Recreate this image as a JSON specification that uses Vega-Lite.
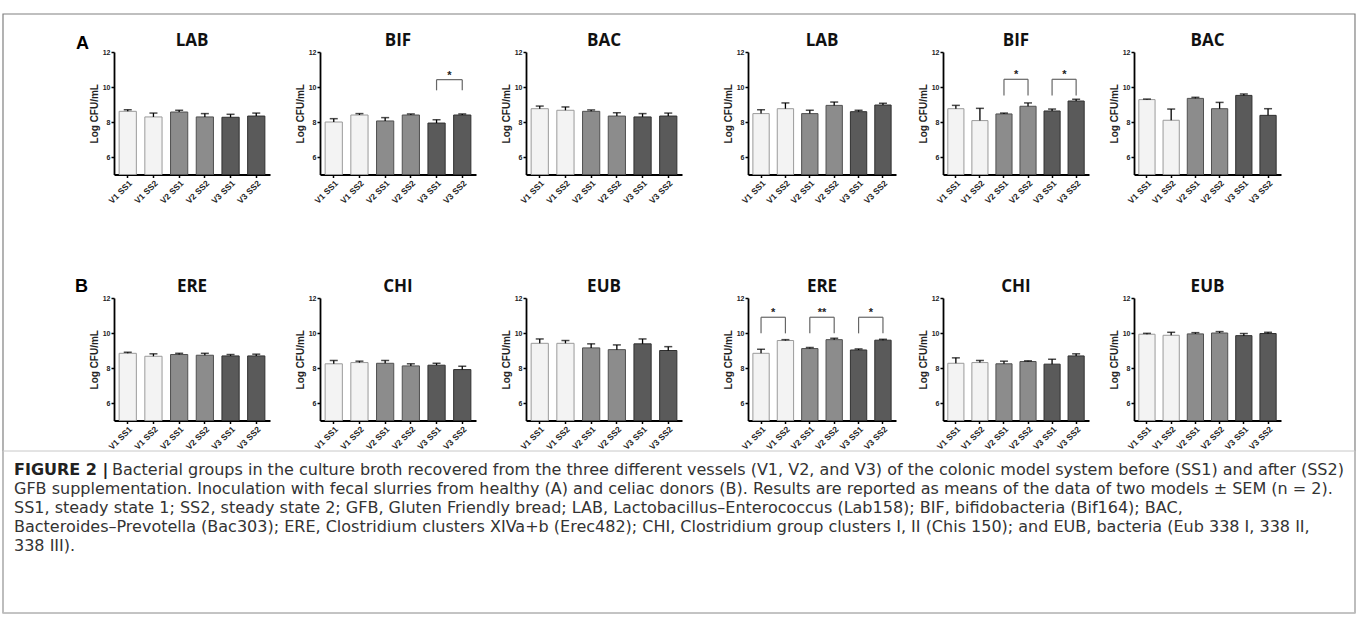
{
"$schema":"https://vega.github.io/schema/vega-lite/v6.json",
"padding":{"left":2,"top":13,"right":2,"bottom":8},
"background":"white",
"datasets":{
"bars":[
{"panel":"A1-LAB","sample":"V1 SS1","vessel":"V1","mean":8.61,"upper":8.70},
{"panel":"A1-LAB","sample":"V1 SS2","vessel":"V1","mean":8.29,"upper":8.51},
{"panel":"A1-LAB","sample":"V2 SS1","vessel":"V2","mean":8.57,"upper":8.67},
{"panel":"A1-LAB","sample":"V2 SS2","vessel":"V2","mean":8.29,"upper":8.48},
{"panel":"A1-LAB","sample":"V3 SS1","vessel":"V3","mean":8.27,"upper":8.44},
{"panel":"A1-LAB","sample":"V3 SS2","vessel":"V3","mean":8.34,"upper":8.51},
{"panel":"A1-BIF","sample":"V1 SS1","vessel":"V1","mean":8.00,"upper":8.19},
{"panel":"A1-BIF","sample":"V1 SS2","vessel":"V1","mean":8.40,"upper":8.48},
{"panel":"A1-BIF","sample":"V2 SS1","vessel":"V2","mean":8.06,"upper":8.25},
{"panel":"A1-BIF","sample":"V2 SS2","vessel":"V2","mean":8.40,"upper":8.46},
{"panel":"A1-BIF","sample":"V3 SS1","vessel":"V3","mean":7.94,"upper":8.13},
{"panel":"A1-BIF","sample":"V3 SS2","vessel":"V3","mean":8.40,"upper":8.46},
{"panel":"A1-BAC","sample":"V1 SS1","vessel":"V1","mean":8.76,"upper":8.91},
{"panel":"A1-BAC","sample":"V1 SS2","vessel":"V1","mean":8.67,"upper":8.86},
{"panel":"A1-BAC","sample":"V2 SS1","vessel":"V2","mean":8.61,"upper":8.69},
{"panel":"A1-BAC","sample":"V2 SS2","vessel":"V2","mean":8.34,"upper":8.53},
{"panel":"A1-BAC","sample":"V3 SS1","vessel":"V3","mean":8.29,"upper":8.48},
{"panel":"A1-BAC","sample":"V3 SS2","vessel":"V3","mean":8.34,"upper":8.51},
{"panel":"A2-LAB","sample":"V1 SS1","vessel":"V1","mean":8.48,"upper":8.70},
{"panel":"A2-LAB","sample":"V1 SS2","vessel":"V1","mean":8.76,"upper":9.09},
{"panel":"A2-LAB","sample":"V2 SS1","vessel":"V2","mean":8.48,"upper":8.67},
{"panel":"A2-LAB","sample":"V2 SS2","vessel":"V2","mean":8.95,"upper":9.14},
{"panel":"A2-LAB","sample":"V3 SS1","vessel":"V3","mean":8.59,"upper":8.67},
{"panel":"A2-LAB","sample":"V3 SS2","vessel":"V3","mean":8.97,"upper":9.07},
{"panel":"A2-BIF","sample":"V1 SS1","vessel":"V1","mean":8.76,"upper":8.95},
{"panel":"A2-BIF","sample":"V1 SS2","vessel":"V1","mean":8.08,"upper":8.78},
{"panel":"A2-BIF","sample":"V2 SS1","vessel":"V2","mean":8.46,"upper":8.51},
{"panel":"A2-BIF","sample":"V2 SS2","vessel":"V2","mean":8.90,"upper":9.09},
{"panel":"A2-BIF","sample":"V3 SS1","vessel":"V3","mean":8.63,"upper":8.74},
{"panel":"A2-BIF","sample":"V3 SS2","vessel":"V3","mean":9.20,"upper":9.30},
{"panel":"A2-BAC","sample":"V1 SS1","vessel":"V1","mean":9.28,"upper":9.31},
{"panel":"A2-BAC","sample":"V1 SS2","vessel":"V1","mean":8.10,"upper":8.74},
{"panel":"A2-BAC","sample":"V2 SS1","vessel":"V2","mean":9.35,"upper":9.41},
{"panel":"A2-BAC","sample":"V2 SS2","vessel":"V2","mean":8.76,"upper":9.12},
{"panel":"A2-BAC","sample":"V3 SS1","vessel":"V3","mean":9.52,"upper":9.60},
{"panel":"A2-BAC","sample":"V3 SS2","vessel":"V3","mean":8.38,"upper":8.76},
{"panel":"B1-ERE","sample":"V1 SS1","vessel":"V1","mean":8.84,"upper":8.90},
{"panel":"B1-ERE","sample":"V1 SS2","vessel":"V1","mean":8.67,"upper":8.81},
{"panel":"B1-ERE","sample":"V2 SS1","vessel":"V2","mean":8.77,"upper":8.84},
{"panel":"B1-ERE","sample":"V2 SS2","vessel":"V2","mean":8.73,"upper":8.84},
{"panel":"B1-ERE","sample":"V3 SS1","vessel":"V3","mean":8.69,"upper":8.77},
{"panel":"B1-ERE","sample":"V3 SS2","vessel":"V3","mean":8.69,"upper":8.79},
{"panel":"B1-CHI","sample":"V1 SS1","vessel":"V1","mean":8.24,"upper":8.43},
{"panel":"B1-CHI","sample":"V1 SS2","vessel":"V1","mean":8.31,"upper":8.39},
{"panel":"B1-CHI","sample":"V2 SS1","vessel":"V2","mean":8.27,"upper":8.43},
{"panel":"B1-CHI","sample":"V2 SS2","vessel":"V2","mean":8.12,"upper":8.24},
{"panel":"B1-CHI","sample":"V3 SS1","vessel":"V3","mean":8.16,"upper":8.27},
{"panel":"B1-CHI","sample":"V3 SS2","vessel":"V3","mean":7.91,"upper":8.10},
{"panel":"B1-EUB","sample":"V1 SS1","vessel":"V1","mean":9.41,"upper":9.66},
{"panel":"B1-EUB","sample":"V1 SS2","vessel":"V1","mean":9.41,"upper":9.57},
{"panel":"B1-EUB","sample":"V2 SS1","vessel":"V2","mean":9.15,"upper":9.38},
{"panel":"B1-EUB","sample":"V2 SS2","vessel":"V2","mean":9.05,"upper":9.32},
{"panel":"B1-EUB","sample":"V3 SS1","vessel":"V3","mean":9.38,"upper":9.66},
{"panel":"B1-EUB","sample":"V3 SS2","vessel":"V3","mean":9.00,"upper":9.22},
{"panel":"B2-ERE","sample":"V1 SS1","vessel":"V1","mean":8.84,"upper":9.07},
{"panel":"B2-ERE","sample":"V1 SS2","vessel":"V1","mean":9.57,"upper":9.62},
{"panel":"B2-ERE","sample":"V2 SS1","vessel":"V2","mean":9.11,"upper":9.17},
{"panel":"B2-ERE","sample":"V2 SS2","vessel":"V2","mean":9.62,"upper":9.70},
{"panel":"B2-ERE","sample":"V3 SS1","vessel":"V3","mean":9.03,"upper":9.09},
{"panel":"B2-ERE","sample":"V3 SS2","vessel":"V3","mean":9.59,"upper":9.64},
{"panel":"B2-CHI","sample":"V1 SS1","vessel":"V1","mean":8.27,"upper":8.58},
{"panel":"B2-CHI","sample":"V1 SS2","vessel":"V1","mean":8.31,"upper":8.43},
{"panel":"B2-CHI","sample":"V2 SS1","vessel":"V2","mean":8.24,"upper":8.39},
{"panel":"B2-CHI","sample":"V2 SS2","vessel":"V2","mean":8.37,"upper":8.41},
{"panel":"B2-CHI","sample":"V3 SS1","vessel":"V3","mean":8.22,"upper":8.50},
{"panel":"B2-CHI","sample":"V3 SS2","vessel":"V3","mean":8.69,"upper":8.81},
{"panel":"B2-EUB","sample":"V1 SS1","vessel":"V1","mean":9.93,"upper":9.98},
{"panel":"B2-EUB","sample":"V1 SS2","vessel":"V1","mean":9.87,"upper":10.04},
{"panel":"B2-EUB","sample":"V2 SS1","vessel":"V2","mean":9.95,"upper":10.02},
{"panel":"B2-EUB","sample":"V2 SS2","vessel":"V2","mean":10.00,"upper":10.08},
{"panel":"B2-EUB","sample":"V3 SS1","vessel":"V3","mean":9.85,"upper":9.97},
{"panel":"B2-EUB","sample":"V3 SS2","vessel":"V3","mean":9.97,"upper":10.04}
],
"brackets":[
{"panel":"A1-BIF","from":"V3 SS1","to":"V3 SS2","top":10.42,"leg":9.81,"label":"*"},
{"panel":"A2-BIF","from":"V2 SS1","to":"V2 SS2","top":10.44,"leg":9.52,"label":"*"},
{"panel":"A2-BIF","from":"V3 SS1","to":"V3 SS2","top":10.44,"leg":9.52,"label":"*"},
{"panel":"B2-ERE","from":"V1 SS1","to":"V1 SS2","top":10.9,"leg":9.98,"label":"*"},
{"panel":"B2-ERE","from":"V2 SS1","to":"V2 SS2","top":10.9,"leg":9.98,"label":"**"},
{"panel":"B2-ERE","from":"V3 SS1","to":"V3 SS2","top":10.9,"leg":9.98,"label":"*"}
],
"caption":[
{"line":1,"part":"label","text":"FIGURE 2 |"},
{"line":1,"part":"body","text":"Bacterial groups in the culture broth recovered from the three different vessels (V1, V2, and V3) of the colonic model system before (SS1) and after (SS2)"},
{"line":2,"part":"body","text":"GFB supplementation. Inoculation with fecal slurries from healthy (A) and celiac donors (B). Results are reported as means of the data of two models ± SEM (n = 2)."},
{"line":3,"part":"body","text":"SS1, steady state 1; SS2, steady state 2; GFB, Gluten Friendly bread; LAB, Lactobacillus–Enterococcus (Lab158); BIF, bifidobacteria (Bif164); BAC,"},
{"line":4,"part":"body","text":"Bacteroides–Prevotella (Bac303); ERE, Clostridium clusters XIVa+b (Erec482); CHI, Clostridium group clusters I, II (Chis 150); and EUB, bacteria (Eub 338 I, 338 II,"},
{"line":5,"part":"body","text":"338 III)."}
]
},
"columns":12,
"spacing":{"row":30,"column":20},
"align":{"row":"each","column":"each"},
"bounds":"flush",
"concat":[
{"width":91,"height":215.5,"title":{"text":"A","anchor":"end","font":"Liberation Sans","fontSize":18,"fontWeight":"bold","offset":-1,"dx":-5,"color":"#000"},"data":{"values":[{}]},"mark":{"type":"text","text":""}},
{"width":156,"height":122.5,"title":{"text":"LAB"},"data":{"name":"bars"},"transform":[{"filter":"datum.panel === 'A1-LAB'"}],
 "encoding":{"x":{"field":"sample","type":"nominal","scale":{"domain":["V1 SS1","V1 SS2","V2 SS1","V2 SS2","V3 SS1","V3 SS2"]},"axis":{"title":null,"labelAngle":-45}},"y":{"field":"mean","type":"quantitative","title":"Log CFU/mL","scale":{"domain":[5,12]},"axis":{"values":[6,8,10,12]}}},
 "layer":[
  {"mark":{"type":"bar","strokeWidth":1},"encoding":{"y2":{"datum":5},"fill":{"field":"vessel","type":"nominal","scale":{"domain":["V1","V2","V3"],"range":["#f3f3f3","#8c8c8c","#5a5a5a"]},"legend":null},"stroke":{"field":"vessel","type":"nominal","scale":{"domain":["V1","V2","V3"],"range":["#9a9a9a","#505050","#303030"]},"legend":null}}},
  {"mark":{"type":"rule","color":"#000","strokeWidth":1.3},"encoding":{"y2":{"field":"upper"}}},
  {"mark":{"type":"tick","color":"#000","thickness":1.5,"size":8},"encoding":{"y":{"field":"upper","type":"quantitative","title":"Log CFU/mL","scale":{"domain":[5,12]},"axis":{"values":[6,8,10,12]}}}}
 ]},
{"width":10,"height":1,"data":{"values":[{}]},"mark":{"type":"text","text":""}},
{"width":156,"height":122.5,"title":{"text":"BIF"},"data":{"name":"bars"},"transform":[{"filter":"datum.panel === 'A1-BIF'"}],
 "encoding":{"x":{"field":"sample","type":"nominal","scale":{"domain":["V1 SS1","V1 SS2","V2 SS1","V2 SS2","V3 SS1","V3 SS2"]},"axis":{"title":null,"labelAngle":-45}},"y":{"field":"mean","type":"quantitative","title":"Log CFU/mL","scale":{"domain":[5,12]},"axis":{"values":[6,8,10,12]}}},
 "layer":[
  {"mark":{"type":"bar","strokeWidth":1},"encoding":{"y2":{"datum":5},"fill":{"field":"vessel","type":"nominal","scale":{"domain":["V1","V2","V3"],"range":["#f3f3f3","#8c8c8c","#5a5a5a"]},"legend":null},"stroke":{"field":"vessel","type":"nominal","scale":{"domain":["V1","V2","V3"],"range":["#9a9a9a","#505050","#303030"]},"legend":null}}},
  {"mark":{"type":"rule","color":"#000","strokeWidth":1.3},"encoding":{"y2":{"field":"upper"}}},
  {"mark":{"type":"tick","color":"#000","thickness":1.5,"size":8},"encoding":{"y":{"field":"upper","type":"quantitative","title":"Log CFU/mL","scale":{"domain":[5,12]},"axis":{"values":[6,8,10,12]}}}},
  {"data":{"name":"brackets"},"transform":[{"filter":"datum.panel === 'A1-BIF'"}],"mark":{"type":"rule","color":"#666","strokeWidth":1.2},"encoding":{"x":{"field":"from","type":"nominal","scale":{"domain":["V1 SS1","V1 SS2","V2 SS1","V2 SS2","V3 SS1","V3 SS2"]},"axis":{"title":null,"labelAngle":-45}},"x2":{"field":"to"},"y":{"field":"top","type":"quantitative","title":"Log CFU/mL","scale":{"domain":[5,12]},"axis":{"values":[6,8,10,12]}}}},
  {"data":{"name":"brackets"},"transform":[{"filter":"datum.panel === 'A1-BIF'"}],"mark":{"type":"rule","color":"#666","strokeWidth":1.2},"encoding":{"x":{"field":"from","type":"nominal","scale":{"domain":["V1 SS1","V1 SS2","V2 SS1","V2 SS2","V3 SS1","V3 SS2"]},"axis":{"title":null,"labelAngle":-45}},"y":{"field":"leg","type":"quantitative","title":"Log CFU/mL","scale":{"domain":[5,12]},"axis":{"values":[6,8,10,12]}},"y2":{"field":"top"}}},
  {"data":{"name":"brackets"},"transform":[{"filter":"datum.panel === 'A1-BIF'"}],"mark":{"type":"rule","color":"#666","strokeWidth":1.2},"encoding":{"x":{"field":"to","type":"nominal","scale":{"domain":["V1 SS1","V1 SS2","V2 SS1","V2 SS2","V3 SS1","V3 SS2"]},"axis":{"title":null,"labelAngle":-45}},"y":{"field":"leg","type":"quantitative","title":"Log CFU/mL","scale":{"domain":[5,12]},"axis":{"values":[6,8,10,12]}},"y2":{"field":"top"}}},
  {"data":{"name":"brackets"},"transform":[{"filter":"datum.panel === 'A1-BIF'"}],"mark":{"type":"text","font":"Liberation Sans","fontSize":11,"fontWeight":"bold","dx":12.8,"dy":-1,"baseline":"alphabetic","color":"#222"},"encoding":{"x":{"field":"from","type":"nominal","scale":{"domain":["V1 SS1","V1 SS2","V2 SS1","V2 SS2","V3 SS1","V3 SS2"]},"axis":{"title":null,"labelAngle":-45}},"y":{"field":"top","type":"quantitative","title":"Log CFU/mL","scale":{"domain":[5,12]},"axis":{"values":[6,8,10,12]}},"text":{"field":"label"}}}
 ]},
{"width":10,"height":1,"data":{"values":[{}]},"mark":{"type":"text","text":""}},
{"width":156,"height":122.5,"title":{"text":"BAC"},"data":{"name":"bars"},"transform":[{"filter":"datum.panel === 'A1-BAC'"}],
 "encoding":{"x":{"field":"sample","type":"nominal","scale":{"domain":["V1 SS1","V1 SS2","V2 SS1","V2 SS2","V3 SS1","V3 SS2"]},"axis":{"title":null,"labelAngle":-45}},"y":{"field":"mean","type":"quantitative","title":"Log CFU/mL","scale":{"domain":[5,12]},"axis":{"values":[6,8,10,12]}}},
 "layer":[
  {"mark":{"type":"bar","strokeWidth":1},"encoding":{"y2":{"datum":5},"fill":{"field":"vessel","type":"nominal","scale":{"domain":["V1","V2","V3"],"range":["#f3f3f3","#8c8c8c","#5a5a5a"]},"legend":null},"stroke":{"field":"vessel","type":"nominal","scale":{"domain":["V1","V2","V3"],"range":["#9a9a9a","#505050","#303030"]},"legend":null}}},
  {"mark":{"type":"rule","color":"#000","strokeWidth":1.3},"encoding":{"y2":{"field":"upper"}}},
  {"mark":{"type":"tick","color":"#000","thickness":1.5,"size":8},"encoding":{"y":{"field":"upper","type":"quantitative","title":"Log CFU/mL","scale":{"domain":[5,12]},"axis":{"values":[6,8,10,12]}}}}
 ]},
{"width":26,"height":1,"data":{"values":[{}]},"mark":{"type":"text","text":""}},
{"width":148,"height":122.5,"title":{"text":"LAB"},"data":{"name":"bars"},"transform":[{"filter":"datum.panel === 'A2-LAB'"}],
 "encoding":{"x":{"field":"sample","type":"nominal","scale":{"domain":["V1 SS1","V1 SS2","V2 SS1","V2 SS2","V3 SS1","V3 SS2"]},"axis":{"title":null,"labelAngle":-45}},"y":{"field":"mean","type":"quantitative","title":"Log CFU/mL","scale":{"domain":[5,12]},"axis":{"values":[6,8,10,12]}}},
 "layer":[
  {"mark":{"type":"bar","strokeWidth":1},"encoding":{"y2":{"datum":5},"fill":{"field":"vessel","type":"nominal","scale":{"domain":["V1","V2","V3"],"range":["#f3f3f3","#8c8c8c","#5a5a5a"]},"legend":null},"stroke":{"field":"vessel","type":"nominal","scale":{"domain":["V1","V2","V3"],"range":["#9a9a9a","#505050","#303030"]},"legend":null}}},
  {"mark":{"type":"rule","color":"#000","strokeWidth":1.3},"encoding":{"y2":{"field":"upper"}}},
  {"mark":{"type":"tick","color":"#000","thickness":1.5,"size":8},"encoding":{"y":{"field":"upper","type":"quantitative","title":"Log CFU/mL","scale":{"domain":[5,12]},"axis":{"values":[6,8,10,12]}}}}
 ]},
{"width":7,"height":1,"data":{"values":[{}]},"mark":{"type":"text","text":""}},
{"width":146,"height":122.5,"title":{"text":"BIF"},"data":{"name":"bars"},"transform":[{"filter":"datum.panel === 'A2-BIF'"}],
 "encoding":{"x":{"field":"sample","type":"nominal","scale":{"domain":["V1 SS1","V1 SS2","V2 SS1","V2 SS2","V3 SS1","V3 SS2"]},"axis":{"title":null,"labelAngle":-45}},"y":{"field":"mean","type":"quantitative","title":"Log CFU/mL","scale":{"domain":[5,12]},"axis":{"values":[6,8,10,12]}}},
 "layer":[
  {"mark":{"type":"bar","strokeWidth":1},"encoding":{"y2":{"datum":5},"fill":{"field":"vessel","type":"nominal","scale":{"domain":["V1","V2","V3"],"range":["#f3f3f3","#8c8c8c","#5a5a5a"]},"legend":null},"stroke":{"field":"vessel","type":"nominal","scale":{"domain":["V1","V2","V3"],"range":["#9a9a9a","#505050","#303030"]},"legend":null}}},
  {"mark":{"type":"rule","color":"#000","strokeWidth":1.3},"encoding":{"y2":{"field":"upper"}}},
  {"mark":{"type":"tick","color":"#000","thickness":1.5,"size":8},"encoding":{"y":{"field":"upper","type":"quantitative","title":"Log CFU/mL","scale":{"domain":[5,12]},"axis":{"values":[6,8,10,12]}}}},
  {"data":{"name":"brackets"},"transform":[{"filter":"datum.panel === 'A2-BIF'"}],"mark":{"type":"rule","color":"#666","strokeWidth":1.2},"encoding":{"x":{"field":"from","type":"nominal","scale":{"domain":["V1 SS1","V1 SS2","V2 SS1","V2 SS2","V3 SS1","V3 SS2"]},"axis":{"title":null,"labelAngle":-45}},"x2":{"field":"to"},"y":{"field":"top","type":"quantitative","title":"Log CFU/mL","scale":{"domain":[5,12]},"axis":{"values":[6,8,10,12]}}}},
  {"data":{"name":"brackets"},"transform":[{"filter":"datum.panel === 'A2-BIF'"}],"mark":{"type":"rule","color":"#666","strokeWidth":1.2},"encoding":{"x":{"field":"from","type":"nominal","scale":{"domain":["V1 SS1","V1 SS2","V2 SS1","V2 SS2","V3 SS1","V3 SS2"]},"axis":{"title":null,"labelAngle":-45}},"y":{"field":"leg","type":"quantitative","title":"Log CFU/mL","scale":{"domain":[5,12]},"axis":{"values":[6,8,10,12]}},"y2":{"field":"top"}}},
  {"data":{"name":"brackets"},"transform":[{"filter":"datum.panel === 'A2-BIF'"}],"mark":{"type":"rule","color":"#666","strokeWidth":1.2},"encoding":{"x":{"field":"to","type":"nominal","scale":{"domain":["V1 SS1","V1 SS2","V2 SS1","V2 SS2","V3 SS1","V3 SS2"]},"axis":{"title":null,"labelAngle":-45}},"y":{"field":"leg","type":"quantitative","title":"Log CFU/mL","scale":{"domain":[5,12]},"axis":{"values":[6,8,10,12]}},"y2":{"field":"top"}}},
  {"data":{"name":"brackets"},"transform":[{"filter":"datum.panel === 'A2-BIF'"}],"mark":{"type":"text","font":"Liberation Sans","fontSize":11,"fontWeight":"bold","dx":12.2,"dy":-1,"baseline":"alphabetic","color":"#222"},"encoding":{"x":{"field":"from","type":"nominal","scale":{"domain":["V1 SS1","V1 SS2","V2 SS1","V2 SS2","V3 SS1","V3 SS2"]},"axis":{"title":null,"labelAngle":-45}},"y":{"field":"top","type":"quantitative","title":"Log CFU/mL","scale":{"domain":[5,12]},"axis":{"values":[6,8,10,12]}},"text":{"field":"label"}}}
 ]},
{"width":5,"height":1,"data":{"values":[{}]},"mark":{"type":"text","text":""}},
{"width":147,"height":122.5,"title":{"text":"BAC"},"data":{"name":"bars"},"transform":[{"filter":"datum.panel === 'A2-BAC'"}],
 "encoding":{"x":{"field":"sample","type":"nominal","scale":{"domain":["V1 SS1","V1 SS2","V2 SS1","V2 SS2","V3 SS1","V3 SS2"]},"axis":{"title":null,"labelAngle":-45}},"y":{"field":"mean","type":"quantitative","title":"Log CFU/mL","scale":{"domain":[5,12]},"axis":{"values":[6,8,10,12]}}},
 "layer":[
  {"mark":{"type":"bar","strokeWidth":1},"encoding":{"y2":{"datum":5},"fill":{"field":"vessel","type":"nominal","scale":{"domain":["V1","V2","V3"],"range":["#f3f3f3","#8c8c8c","#5a5a5a"]},"legend":null},"stroke":{"field":"vessel","type":"nominal","scale":{"domain":["V1","V2","V3"],"range":["#9a9a9a","#505050","#303030"]},"legend":null}}},
  {"mark":{"type":"rule","color":"#000","strokeWidth":1.3},"encoding":{"y2":{"field":"upper"}}},
  {"mark":{"type":"tick","color":"#000","thickness":1.5,"size":8},"encoding":{"y":{"field":"upper","type":"quantitative","title":"Log CFU/mL","scale":{"domain":[5,12]},"axis":{"values":[6,8,10,12]}}}}
 ]},
{"width":91,"height":122.5,"title":{"text":"B","anchor":"end","font":"Liberation Sans","fontSize":18,"fontWeight":"bold","offset":2,"dx":-6,"color":"#000"},"data":{"values":[{}]},"mark":{"type":"text","text":""}},
{"width":156,"height":122.5,"title":{"text":"ERE"},"data":{"name":"bars"},"transform":[{"filter":"datum.panel === 'B1-ERE'"}],
 "encoding":{"x":{"field":"sample","type":"nominal","scale":{"domain":["V1 SS1","V1 SS2","V2 SS1","V2 SS2","V3 SS1","V3 SS2"]},"axis":{"title":null,"labelAngle":-45}},"y":{"field":"mean","type":"quantitative","title":"Log CFU/mL","scale":{"domain":[5,12]},"axis":{"values":[6,8,10,12]}}},
 "layer":[
  {"mark":{"type":"bar","strokeWidth":1},"encoding":{"y2":{"datum":5},"fill":{"field":"vessel","type":"nominal","scale":{"domain":["V1","V2","V3"],"range":["#f3f3f3","#8c8c8c","#5a5a5a"]},"legend":null},"stroke":{"field":"vessel","type":"nominal","scale":{"domain":["V1","V2","V3"],"range":["#9a9a9a","#505050","#303030"]},"legend":null}}},
  {"mark":{"type":"rule","color":"#000","strokeWidth":1.3},"encoding":{"y2":{"field":"upper"}}},
  {"mark":{"type":"tick","color":"#000","thickness":1.5,"size":8},"encoding":{"y":{"field":"upper","type":"quantitative","title":"Log CFU/mL","scale":{"domain":[5,12]},"axis":{"values":[6,8,10,12]}}}}
 ]},
{"width":10,"height":1,"data":{"values":[{}]},"mark":{"type":"text","text":""}},
{"width":156,"height":122.5,"title":{"text":"CHI"},"data":{"name":"bars"},"transform":[{"filter":"datum.panel === 'B1-CHI'"}],
 "encoding":{"x":{"field":"sample","type":"nominal","scale":{"domain":["V1 SS1","V1 SS2","V2 SS1","V2 SS2","V3 SS1","V3 SS2"]},"axis":{"title":null,"labelAngle":-45}},"y":{"field":"mean","type":"quantitative","title":"Log CFU/mL","scale":{"domain":[5,12]},"axis":{"values":[6,8,10,12]}}},
 "layer":[
  {"mark":{"type":"bar","strokeWidth":1},"encoding":{"y2":{"datum":5},"fill":{"field":"vessel","type":"nominal","scale":{"domain":["V1","V2","V3"],"range":["#f3f3f3","#8c8c8c","#5a5a5a"]},"legend":null},"stroke":{"field":"vessel","type":"nominal","scale":{"domain":["V1","V2","V3"],"range":["#9a9a9a","#505050","#303030"]},"legend":null}}},
  {"mark":{"type":"rule","color":"#000","strokeWidth":1.3},"encoding":{"y2":{"field":"upper"}}},
  {"mark":{"type":"tick","color":"#000","thickness":1.5,"size":8},"encoding":{"y":{"field":"upper","type":"quantitative","title":"Log CFU/mL","scale":{"domain":[5,12]},"axis":{"values":[6,8,10,12]}}}}
 ]},
{"width":10,"height":1,"data":{"values":[{}]},"mark":{"type":"text","text":""}},
{"width":156,"height":122.5,"title":{"text":"EUB"},"data":{"name":"bars"},"transform":[{"filter":"datum.panel === 'B1-EUB'"}],
 "encoding":{"x":{"field":"sample","type":"nominal","scale":{"domain":["V1 SS1","V1 SS2","V2 SS1","V2 SS2","V3 SS1","V3 SS2"]},"axis":{"title":null,"labelAngle":-45}},"y":{"field":"mean","type":"quantitative","title":"Log CFU/mL","scale":{"domain":[5,12]},"axis":{"values":[6,8,10,12]}}},
 "layer":[
  {"mark":{"type":"bar","strokeWidth":1},"encoding":{"y2":{"datum":5},"fill":{"field":"vessel","type":"nominal","scale":{"domain":["V1","V2","V3"],"range":["#f3f3f3","#8c8c8c","#5a5a5a"]},"legend":null},"stroke":{"field":"vessel","type":"nominal","scale":{"domain":["V1","V2","V3"],"range":["#9a9a9a","#505050","#303030"]},"legend":null}}},
  {"mark":{"type":"rule","color":"#000","strokeWidth":1.3},"encoding":{"y2":{"field":"upper"}}},
  {"mark":{"type":"tick","color":"#000","thickness":1.5,"size":8},"encoding":{"y":{"field":"upper","type":"quantitative","title":"Log CFU/mL","scale":{"domain":[5,12]},"axis":{"values":[6,8,10,12]}}}}
 ]},
{"width":26,"height":1,"data":{"values":[{}]},"mark":{"type":"text","text":""}},
{"width":148,"height":122.5,"title":{"text":"ERE"},"data":{"name":"bars"},"transform":[{"filter":"datum.panel === 'B2-ERE'"}],
 "encoding":{"x":{"field":"sample","type":"nominal","scale":{"domain":["V1 SS1","V1 SS2","V2 SS1","V2 SS2","V3 SS1","V3 SS2"]},"axis":{"title":null,"labelAngle":-45}},"y":{"field":"mean","type":"quantitative","title":"Log CFU/mL","scale":{"domain":[5,12]},"axis":{"values":[6,8,10,12]}}},
 "layer":[
  {"mark":{"type":"bar","strokeWidth":1},"encoding":{"y2":{"datum":5},"fill":{"field":"vessel","type":"nominal","scale":{"domain":["V1","V2","V3"],"range":["#f3f3f3","#8c8c8c","#5a5a5a"]},"legend":null},"stroke":{"field":"vessel","type":"nominal","scale":{"domain":["V1","V2","V3"],"range":["#9a9a9a","#505050","#303030"]},"legend":null}}},
  {"mark":{"type":"rule","color":"#000","strokeWidth":1.3},"encoding":{"y2":{"field":"upper"}}},
  {"mark":{"type":"tick","color":"#000","thickness":1.5,"size":8},"encoding":{"y":{"field":"upper","type":"quantitative","title":"Log CFU/mL","scale":{"domain":[5,12]},"axis":{"values":[6,8,10,12]}}}},
  {"data":{"name":"brackets"},"transform":[{"filter":"datum.panel === 'B2-ERE'"}],"mark":{"type":"rule","color":"#666","strokeWidth":1.2},"encoding":{"x":{"field":"from","type":"nominal","scale":{"domain":["V1 SS1","V1 SS2","V2 SS1","V2 SS2","V3 SS1","V3 SS2"]},"axis":{"title":null,"labelAngle":-45}},"x2":{"field":"to"},"y":{"field":"top","type":"quantitative","title":"Log CFU/mL","scale":{"domain":[5,12]},"axis":{"values":[6,8,10,12]}}}},
  {"data":{"name":"brackets"},"transform":[{"filter":"datum.panel === 'B2-ERE'"}],"mark":{"type":"rule","color":"#666","strokeWidth":1.2},"encoding":{"x":{"field":"from","type":"nominal","scale":{"domain":["V1 SS1","V1 SS2","V2 SS1","V2 SS2","V3 SS1","V3 SS2"]},"axis":{"title":null,"labelAngle":-45}},"y":{"field":"leg","type":"quantitative","title":"Log CFU/mL","scale":{"domain":[5,12]},"axis":{"values":[6,8,10,12]}},"y2":{"field":"top"}}},
  {"data":{"name":"brackets"},"transform":[{"filter":"datum.panel === 'B2-ERE'"}],"mark":{"type":"rule","color":"#666","strokeWidth":1.2},"encoding":{"x":{"field":"to","type":"nominal","scale":{"domain":["V1 SS1","V1 SS2","V2 SS1","V2 SS2","V3 SS1","V3 SS2"]},"axis":{"title":null,"labelAngle":-45}},"y":{"field":"leg","type":"quantitative","title":"Log CFU/mL","scale":{"domain":[5,12]},"axis":{"values":[6,8,10,12]}},"y2":{"field":"top"}}},
  {"data":{"name":"brackets"},"transform":[{"filter":"datum.panel === 'B2-ERE'"}],"mark":{"type":"text","font":"Liberation Sans","fontSize":11,"fontWeight":"bold","dx":12.2,"dy":-1,"baseline":"alphabetic","color":"#222"},"encoding":{"x":{"field":"from","type":"nominal","scale":{"domain":["V1 SS1","V1 SS2","V2 SS1","V2 SS2","V3 SS1","V3 SS2"]},"axis":{"title":null,"labelAngle":-45}},"y":{"field":"top","type":"quantitative","title":"Log CFU/mL","scale":{"domain":[5,12]},"axis":{"values":[6,8,10,12]}},"text":{"field":"label"}}}
 ]},
{"width":7,"height":1,"data":{"values":[{}]},"mark":{"type":"text","text":""}},
{"width":146,"height":122.5,"title":{"text":"CHI"},"data":{"name":"bars"},"transform":[{"filter":"datum.panel === 'B2-CHI'"}],
 "encoding":{"x":{"field":"sample","type":"nominal","scale":{"domain":["V1 SS1","V1 SS2","V2 SS1","V2 SS2","V3 SS1","V3 SS2"]},"axis":{"title":null,"labelAngle":-45}},"y":{"field":"mean","type":"quantitative","title":"Log CFU/mL","scale":{"domain":[5,12]},"axis":{"values":[6,8,10,12]}}},
 "layer":[
  {"mark":{"type":"bar","strokeWidth":1},"encoding":{"y2":{"datum":5},"fill":{"field":"vessel","type":"nominal","scale":{"domain":["V1","V2","V3"],"range":["#f3f3f3","#8c8c8c","#5a5a5a"]},"legend":null},"stroke":{"field":"vessel","type":"nominal","scale":{"domain":["V1","V2","V3"],"range":["#9a9a9a","#505050","#303030"]},"legend":null}}},
  {"mark":{"type":"rule","color":"#000","strokeWidth":1.3},"encoding":{"y2":{"field":"upper"}}},
  {"mark":{"type":"tick","color":"#000","thickness":1.5,"size":8},"encoding":{"y":{"field":"upper","type":"quantitative","title":"Log CFU/mL","scale":{"domain":[5,12]},"axis":{"values":[6,8,10,12]}}}}
 ]},
{"width":5,"height":1,"data":{"values":[{}]},"mark":{"type":"text","text":""}},
{"width":147,"height":122.5,"title":{"text":"EUB"},"data":{"name":"bars"},"transform":[{"filter":"datum.panel === 'B2-EUB'"}],
 "encoding":{"x":{"field":"sample","type":"nominal","scale":{"domain":["V1 SS1","V1 SS2","V2 SS1","V2 SS2","V3 SS1","V3 SS2"]},"axis":{"title":null,"labelAngle":-45}},"y":{"field":"mean","type":"quantitative","title":"Log CFU/mL","scale":{"domain":[5,12]},"axis":{"values":[6,8,10,12]}}},
 "layer":[
  {"mark":{"type":"bar","strokeWidth":1},"encoding":{"y2":{"datum":5},"fill":{"field":"vessel","type":"nominal","scale":{"domain":["V1","V2","V3"],"range":["#f3f3f3","#8c8c8c","#5a5a5a"]},"legend":null},"stroke":{"field":"vessel","type":"nominal","scale":{"domain":["V1","V2","V3"],"range":["#9a9a9a","#505050","#303030"]},"legend":null}}},
  {"mark":{"type":"rule","color":"#000","strokeWidth":1.3},"encoding":{"y2":{"field":"upper"}}},
  {"mark":{"type":"tick","color":"#000","thickness":1.5,"size":8},"encoding":{"y":{"field":"upper","type":"quantitative","title":"Log CFU/mL","scale":{"domain":[5,12]},"axis":{"values":[6,8,10,12]}}}}
 ]},
{"width":91,"height":162,
 "layer":[
  {"data":{"values":[{}]},"mark":{"type":"rect","fill":null,"stroke":"#808080","strokeWidth":1.2},"encoding":{"x":{"datum":0,"type":"quantitative","scale":{"domain":[0,1]},"axis":null},"x2":{"datum":14.857},"y":{"datum":-23.122,"type":"quantitative","scale":{"domain":[0,8.5714],"reverse":true},"axis":null},"y2":{"datum":8.5714}}},
  {"data":{"values":[{}]},"mark":{"type":"rect","fill":null,"stroke":"#c8c8c8","strokeWidth":1},"encoding":{"x":{"datum":0,"type":"quantitative","scale":{"domain":[0,1]},"axis":null},"x2":{"datum":14.857},"y":{"datum":0,"type":"quantitative","scale":{"domain":[0,8.5714],"reverse":true},"axis":null},"y2":{"datum":8.5714}}},
  {"data":{"name":"caption"},"transform":[{"filter":"datum.part === 'label'"}],"mark":{"type":"text","align":"left","baseline":"middle","font":"DejaVu Sans","fontSize":16,"fontWeight":"bold","color":"#222","dx":11},"encoding":{"x":{"datum":0,"type":"quantitative","scale":{"domain":[0,1]},"axis":null},"y":{"field":"line","type":"quantitative","scale":{"domain":[0,8.5714],"reverse":true},"axis":null},"text":{"field":"text"}}},
  {"data":{"name":"caption"},"transform":[{"filter":"datum.part === 'body' && datum.line === 1"}],"mark":{"type":"text","align":"left","baseline":"middle","font":"DejaVu Sans","fontSize":16,"color":"#333","dx":109},"encoding":{"x":{"datum":0,"type":"quantitative","scale":{"domain":[0,1]},"axis":null},"y":{"field":"line","type":"quantitative","scale":{"domain":[0,8.5714],"reverse":true},"axis":null},"text":{"field":"text"}}},
  {"data":{"name":"caption"},"transform":[{"filter":"datum.line > 1"}],"mark":{"type":"text","align":"left","baseline":"middle","font":"DejaVu Sans","fontSize":16,"color":"#333","dx":11},"encoding":{"x":{"datum":0,"type":"quantitative","scale":{"domain":[0,1]},"axis":null},"y":{"field":"line","type":"quantitative","scale":{"domain":[0,8.5714],"reverse":true},"axis":null},"text":{"field":"text"}}}
 ]}
],
"config":{
 "view":{"stroke":null},
 "font":"Liberation Sans",
 "scale":{"bandPaddingInner":0.33,"bandPaddingOuter":0.2},
 "axis":{"grid":false,"domainColor":"#000","domainWidth":1.8,"tickColor":"#000","tickWidth":1.5,"tickSize":3,"labelFont":"Liberation Sans","titleFont":"Liberation Sans","labelFontWeight":"bold","titleFontWeight":"bold","labelColor":"#222","titleColor":"#222"},
 "axisX":{"labelFontSize":8.5,"labelPadding":1},
 "axisY":{"labelFontSize":7,"titleFontSize":10,"titlePadding":3,"labelPadding":1},
 "title":{"font":"Open Sans","fontSize":17,"fontWeight":"bold","color":"#111","frame":"group","baseline":"alphabetic","offset":-2}
}
}
